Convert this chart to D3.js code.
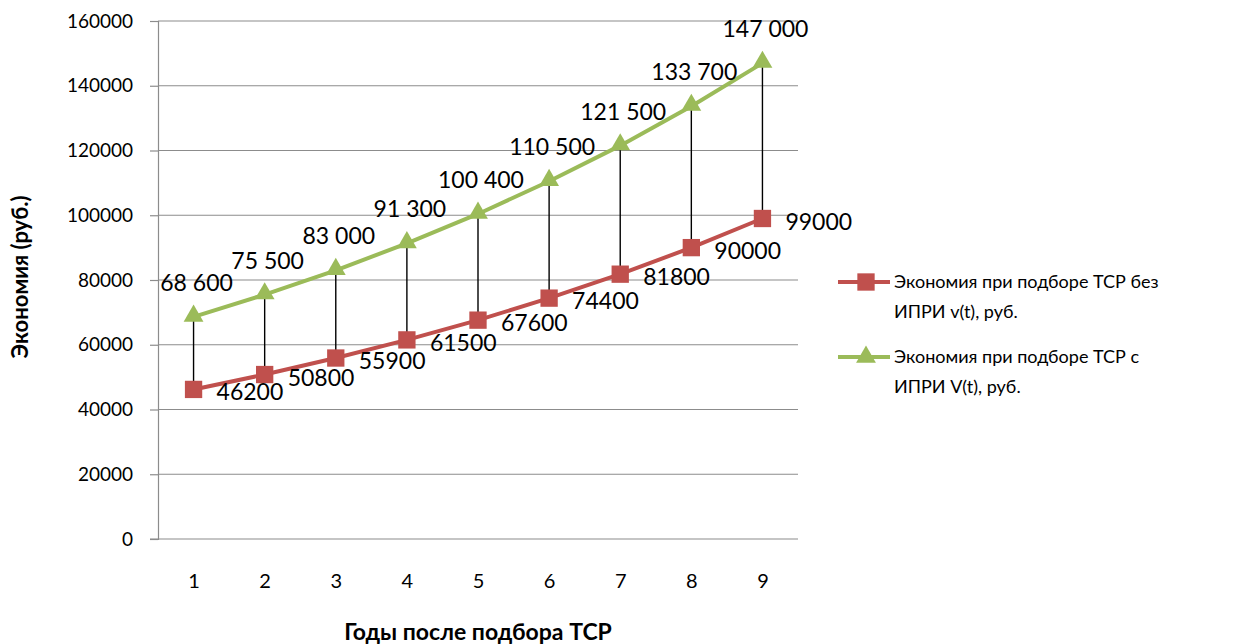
<!DOCTYPE html>
<html lang="ru">
<head>
<meta charset="UTF-8">
<title>Экономия</title>
<script src="https://cdn.jsdelivr.net/npm/d3@7"></script>
<style>
  body { margin: 0; background: #fff; }
  text { font-family: Lato, "Open Sans", sans-serif; fill: #000; }
</style>
</head>
<body>
<script>
    const years = [1, 2, 3, 4, 5, 6, 7, 8, 9];
    const withoutIpri = [46200, 50800, 55900, 61500, 67600, 74400, 81800, 90000, 99000];
    const withIpri = [68600, 75500, 83000, 91300, 100400, 110500, 121500, 133700, 147000];
    const withoutLabels = ["46200", "50800", "55900", "61500", "67600", "74400", "81800", "90000", "99000"];
    const withLabels = ["68 600", "75 500", "83 000", "91 300", "100 400", "110 500", "121 500", "133 700", "147 000"];
    const yTicks = [0, 20000, 40000, 60000, 80000, 100000, 120000, 140000, 160000];
    const legendNames = [
        ["Экономия при подборе ТСР без", "ИПРИ v(t), руб."],
        ["Экономия при подборе ТСР с", "ИПРИ V(t), руб."]
    ];

    const width = 1258, height = 644;
    const plotLeft = 158, plotRight = 798, plotTop = 21, plotBottom = 539;
    const red = "#C0504D", green = "#9BBB59";

    const svg = d3.select("body").append("svg").attr("width", width).attr("height", height);

    const x = d3.scalePoint().domain(years).range([plotLeft, plotRight]).padding(0.5);
    const y = d3.scaleLinear().domain([0, 160000]).range([plotBottom, plotTop]);

    // grid
    svg.append("g")
        .selectAll("line")
        .data(yTicks.slice(1))
        .join("line")
        .attr("x1", plotLeft).attr("x2", plotRight)
        .attr("y1", d => y(d)).attr("y2", d => y(d))
        .attr("stroke", "#8c8c8c").attr("stroke-width", 1.2);

    // y axis
    const yAxis = svg.append("g")
        .attr("transform", `translate(${plotLeft},0)`)
        .call(d3.axisLeft(y).tickValues(yTicks).tickSize(8).tickPadding(17).tickFormat(d3.format("d")));
    yAxis.select(".domain").attr("stroke", "#8c8c8c").attr("stroke-width", 1.2);
    yAxis.selectAll(".tick line").attr("stroke", "#8c8c8c").attr("stroke-width", 1.2);
    yAxis.selectAll("text").attr("font-size", 19).attr("font-family", "Lato, sans-serif").attr("fill", "#000");

    // x axis
    const xAxis = svg.append("g")
        .attr("transform", `translate(0,${plotBottom})`)
        .call(d3.axisBottom(x).tickSize(0).tickPadding(35));
    xAxis.select(".domain").attr("d", `M${plotLeft - 8},0H${plotRight}`).attr("stroke", "#8c8c8c").attr("stroke-width", 1.2);
    xAxis.selectAll("text").attr("font-size", 20).attr("font-family", "Lato, sans-serif").attr("fill", "#000");

    // axis titles
    svg.append("text")
        .attr("x", 478).attr("y", 640)
        .attr("text-anchor", "middle")
        .attr("font-size", 23).attr("font-weight", "bold")
        .text("Годы после подбора ТСР");

    svg.append("text")
        .attr("transform", `translate(28,277) rotate(-90)`)
        .attr("text-anchor", "middle")
        .attr("font-size", 22).attr("font-weight", "bold")
        .text("Экономия (руб.)");

    // high-low lines
    svg.append("g")
        .selectAll("line")
        .data(years)
        .join("line")
        .attr("x1", d => x(d)).attr("x2", d => x(d))
        .attr("y1", (d, i) => y(withIpri[i])).attr("y2", (d, i) => y(withoutIpri[i]))
        .attr("stroke", "#000").attr("stroke-width", 1.4);

    const line = d3.line().x((d, i) => x(years[i])).y(d => y(d));

    svg.append("path").datum(withoutIpri)
        .attr("fill", "none").attr("stroke", red).attr("stroke-width", 4)
        .attr("d", line);
    svg.append("path").datum(withIpri)
        .attr("fill", "none").attr("stroke", green).attr("stroke-width", 4)
        .attr("d", line);

    const square = d3.symbol(d3.symbolSquare, 300);
    const triangle = d3.symbol(d3.symbolTriangle, 170);

    svg.append("g")
        .selectAll("path")
        .data(withoutIpri)
        .join("path")
        .attr("transform", (d, i) => `translate(${x(years[i])},${y(d)})`)
        .attr("d", square).attr("fill", red);

    svg.append("g")
        .selectAll("path")
        .data(withIpri)
        .join("path")
        .attr("transform", (d, i) => `translate(${x(years[i])},${y(d) - 1})`)
        .attr("d", triangle).attr("fill", green);

    // data labels
    svg.append("g")
        .selectAll("text")
        .data(withoutIpri)
        .join("text")
        .attr("x", (d, i) => x(years[i]) + 23)
        .attr("y", d => y(d) + 3)
        .attr("dy", "0.35em")
        .attr("font-size", 23)
        .text((d, i) => withoutLabels[i]);

    svg.append("g")
        .selectAll("text")
        .data(withIpri)
        .join("text")
        .attr("x", (d, i) => x(years[i]) + 3)
        .attr("y", d => y(d) - 34)
        .attr("dy", "0.35em")
        .attr("text-anchor", "middle")
        .attr("font-size", 23)
        .text((d, i) => withLabels[i]);

    // legend
    const legend = svg.append("g");
    const legendRows = [
        {color: red, shape: square, y: 282, names: legendNames[0]},
        {color: green, shape: triangle, y: 357, names: legendNames[1]}
    ];
    legendRows.forEach(r => {
        legend.append("line")
            .attr("x1", 838).attr("x2", 890).attr("y1", r.y).attr("y2", r.y)
            .attr("stroke", r.color).attr("stroke-width", 4);
        legend.append("path")
            .attr("transform", `translate(866,${r.y})`)
            .attr("d", r.shape).attr("fill", r.color);
        legend.append("text")
            .attr("x", 894).attr("y", r.y)
            .attr("font-size", 18)
            .selectAll("tspan")
            .data(r.names)
            .join("tspan")
            .attr("x", 894)
            .attr("dy", (d, i) => i === 0 ? "0.35em" : "1.65em")
            .text(d => d);
    });
</script>
</body>
</html>
